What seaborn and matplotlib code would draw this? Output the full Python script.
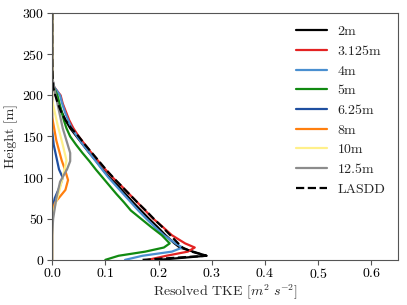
import matplotlib
matplotlib.use("Agg")
import matplotlib.pyplot as plt
import seaborn as sns
import numpy as np
import pandas as pd

sns.set_style("ticks")
plt.rcParams["font.family"] = ["cmr10"]
plt.rcParams["mathtext.fontset"] = "cm"
plt.rcParams["axes.formatter.use_mathtext"] = True
plt.rcParams["font.size"] = 10

# fine-resolution profiles share these heights
h_fine = [0, 5, 10, 15, 20, 30, 40, 50, 60, 70, 80, 90, 100, 110, 120, 130, 140, 150,
          160, 170, 180, 190, 200, 210, 220, 230, 250, 300]
tke_2m = [0.20, 0.29, 0.265, 0.24, 0.23, 0.213, 0.198, 0.182, 0.167, 0.152, 0.138,
          0.124, 0.108, 0.095, 0.083, 0.07, 0.058, 0.046, 0.034, 0.025, 0.018, 0.012,
          0.007, 0.003, 0.001, 0.0, 0.0, 0.0]
tke_3125m = [0.18, 0.215, 0.255, 0.268, 0.25, 0.225, 0.208, 0.19, 0.175, 0.16, 0.145,
             0.13, 0.114, 0.10, 0.087, 0.074, 0.062, 0.05, 0.04, 0.032, 0.026, 0.02,
             0.016, 0.004, 0.0, 0.0, 0.0, 0.0]
tke_4m = [0.137, 0.17, 0.225, 0.245, 0.232, 0.21, 0.193, 0.177, 0.162, 0.148, 0.134,
          0.12, 0.106, 0.094, 0.082, 0.07, 0.058, 0.047, 0.037, 0.03, 0.024, 0.019,
          0.015, 0.004, 0.0, 0.0, 0.0, 0.0]
tke_5m = [0.10, 0.125, 0.175, 0.21, 0.221, 0.206, 0.186, 0.167, 0.148, 0.135, 0.121,
          0.108, 0.095, 0.082, 0.07, 0.057, 0.045, 0.034, 0.027, 0.022, 0.018, 0.014,
          0.01, 0.003, 0.0, 0.0, 0.0, 0.0]
tke_lasdd = [0.17, 0.29, 0.262, 0.245, 0.237, 0.222, 0.207, 0.191, 0.176, 0.16, 0.145,
             0.13, 0.115, 0.101, 0.088, 0.075, 0.062, 0.05, 0.036, 0.025, 0.017, 0.011,
             0.006, 0.002, 0.001, 0.0005, 0.0, 0.0]

h_625m = [0, 60, 75, 90, 100, 110, 125, 140, 158, 300]
tke_625m = [0, 0, 0.005, 0.015, 0.02, 0.013, 0.008, 0.003, 0, 0]
h_8m = [0, 60, 70, 85, 97, 110, 121, 145, 174, 300]
tke_8m = [0, 0, 0.006, 0.025, 0.03, 0.024, 0.018, 0.008, 0, 0]
h_10m = [0, 50, 65, 80, 100, 121, 140, 165, 194, 300]
tke_10m = [0, 0, 0.005, 0.012, 0.02, 0.027, 0.02, 0.01, 0, 0]
h_125m = [0, 30, 50, 75, 95, 110, 120, 130, 160, 190, 222, 300]
tke_125m = [0, 0, 0.002, 0.008, 0.015, 0.028, 0.034, 0.034, 0.02, 0.01, 0, 0]

series = [
    ("2m", h_fine, tke_2m, "black", "-"),
    ("3.125m", h_fine, tke_3125m, "#e32323", "-"),
    ("4m", h_fine, tke_4m, "#4a8fd0", "-"),
    ("5m", h_fine, tke_5m, "#118a11", "-"),
    ("6.25m", h_625m, tke_625m, "#1f4fa0", "-"),
    ("8m", h_8m, tke_8m, "#ff7f0e", "-"),
    ("10m", h_10m, tke_10m, "#fff08a", "-"),
    ("12.5m", h_125m, tke_125m, "#8c8c8c", "-"),
    ("LASDD", h_fine, tke_lasdd, "black", "--"),
]

fig = plt.figure(figsize=(4.07, 3.05), dpi=100)
ax = fig.add_axes([0.128, 0.148, 0.85, 0.809])

for label, h, v, c, ls in series:
    df = pd.DataFrame({"tke": v, "h": h})
    sns.lineplot(data=df, x="tke", y="h", orient="y", ax=ax, color=c,
                 linestyle=ls, linewidth=1.6, label=label, estimator=None)

ax.set_xlim(0, 0.65)
ax.set_ylim(0, 300)
ax.set_xticks([0.0, 0.1, 0.2, 0.3, 0.4, 0.5, 0.6])
ax.set_yticks([0, 50, 100, 150, 200, 250, 300])
ax.set_xlabel(r"Resolved TKE $[m^2\ s^{-2}]$", labelpad=1)
ax.set_ylabel("Height [m]", labelpad=3)
ax.legend(loc="upper right", frameon=False, fontsize=10, handlelength=2.2)
for s in ax.spines.values():
    s.set_color("#555555")
ax.tick_params(colors="#555555", labelcolor="black", pad=2)

fig.savefig("out.png", dpi=100)
